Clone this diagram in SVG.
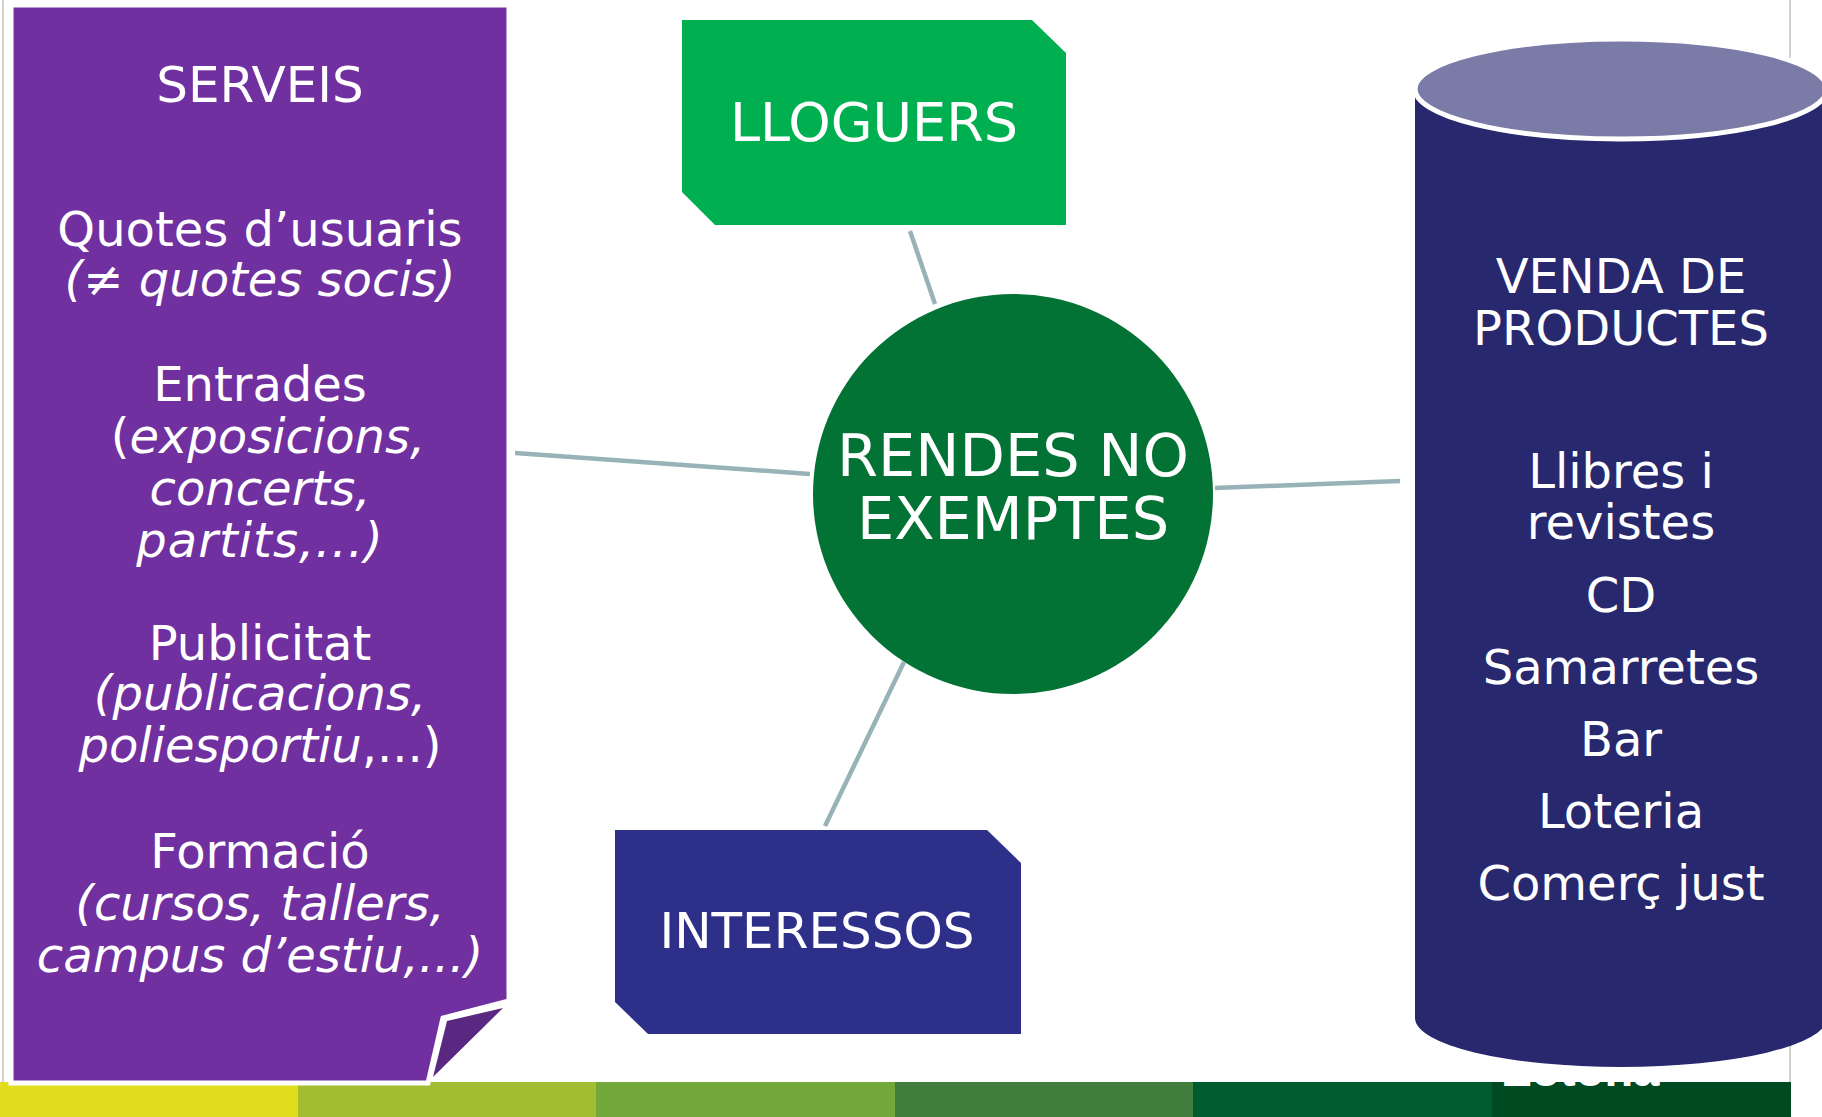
<svg xmlns="http://www.w3.org/2000/svg" width="1822" height="1117" viewBox="0 0 1822 1117">
<style>
text{font-family:"DejaVu Sans","Verdana","Liberation Sans",sans-serif;fill:#fff;text-anchor:middle}
.t48{font-size:48px}
.it{font-style:italic}
.up{font-style:normal}
.conn{stroke:#97B3B7;stroke-width:4.5;fill:none}
.edge{stroke:#D2D2D2;stroke-width:2}
</style>
<rect x="0" y="0" width="1822" height="1117" fill="#fff"/>
<g id="slide-frame">
<line class="edge" x1="3" y1="0" x2="3" y2="1082"/>
<line class="edge" x1="1790" y1="0" x2="1790" y2="1082"/>
<rect x="0" y="1082" width="298" height="35" fill="#E0DC1E"/>
<rect x="298" y="1082" width="298" height="35" fill="#A3BD30"/>
<rect x="596" y="1082" width="299" height="35" fill="#72A83A"/>
<rect x="895" y="1082" width="298" height="35" fill="#3F7E3C"/>
<rect x="1193" y="1082" width="299" height="35" fill="#005B2E"/>
<rect x="1492" y="1082" width="299" height="35" fill="#004A22"/>
<text x="1581" y="1086" style="font-family:'Liberation Sans',sans-serif;font-weight:bold;font-size:47px">Zotona</text>
</g>
<g id="connectors">
<line class="conn" x1="515" y1="453" x2="810" y2="474"/>
<line class="conn" x1="910" y1="231" x2="935" y2="304"/>
<line class="conn" x1="1215" y1="488" x2="1400" y2="481"/>
<line class="conn" x1="904" y1="662" x2="825" y2="826"/>
</g>
<g id="serveis">
<path d="M11,5 H509 V1001 L443,1018 L428,1083 H11 Z" fill="#7030A0" stroke="#fff" stroke-width="5"/>
<path d="M447,1021 L503,1008 L433,1077 Z" fill="#5A2880"/>
<text x="260" y="102" style="font-size:50px">SERVEIS</text>
<text class="t48" x="260" y="246">Quotes d’usuaris</text>
<text class="t48 it" x="260" y="296">(≠ quotes socis)</text>
<text class="t48" x="260" y="401">Entrades</text>
<text class="t48" x="268" y="453"><tspan class="up">(</tspan><tspan class="it">exposicions,</tspan></text>
<text class="t48 it" x="260" y="505">concerts,</text>
<text class="t48 it" x="260" y="557" letter-spacing="1">partits,...)</text>
<text class="t48" x="260" y="660">Publicitat</text>
<text class="t48 it" x="260" y="710">(publicacions,</text>
<text class="t48" x="260" y="762"><tspan class="it">poliesportiu</tspan>,...)</text>
<text class="t48" x="260" y="868">Formació</text>
<text class="t48 it" x="260" y="920">(cursos, tallers,</text>
<text class="t48 it" x="260" y="972">campus d’estiu,...)</text>
</g>
<g id="lloguers">
<path d="M682,20 H1032 L1066,53 V225 H715 L682,192 Z" fill="#00B050"/>
<text x="874" y="141" style="font-size:54px">LLOGUERS</text>
</g>
<g id="interessos">
<path d="M615,830 H987 L1021,863 V1034 H648 L615,1002 Z" fill="#2E2F88"/>
<text x="817" y="948" style="font-size:50px">INTERESSOS</text>
</g>
<g id="rendes">
<circle cx="1013" cy="494" r="200" fill="#037335"/>
<text x="1013" y="476" style="font-size:59px">RENDES NO</text>
<text x="1013" y="539" style="font-size:59px">EXEMPTES</text>
</g>
<g id="venda">
<path d="M1415,88 V1018 A206,49 0 0 0 1827,1018 V88 Z" fill="#28286F"/>
<ellipse cx="1621" cy="89" rx="206" ry="50" fill="#7B7BA8" stroke="#fff" stroke-width="5"/>
<text class="t48" x="1621" y="293">VENDA DE</text>
<text class="t48" x="1621" y="345">PRODUCTES</text>
<text class="t48" x="1621" y="488">Llibres i</text>
<text class="t48" x="1621" y="539">revistes</text>
<text class="t48" x="1621" y="612">CD</text>
<text class="t48" x="1621" y="684">Samarretes</text>
<text class="t48" x="1621" y="756">Bar</text>
<text class="t48" x="1621" y="828">Loteria</text>
<text class="t48" x="1621" y="900">Comerç just</text>
</g>
</svg>
